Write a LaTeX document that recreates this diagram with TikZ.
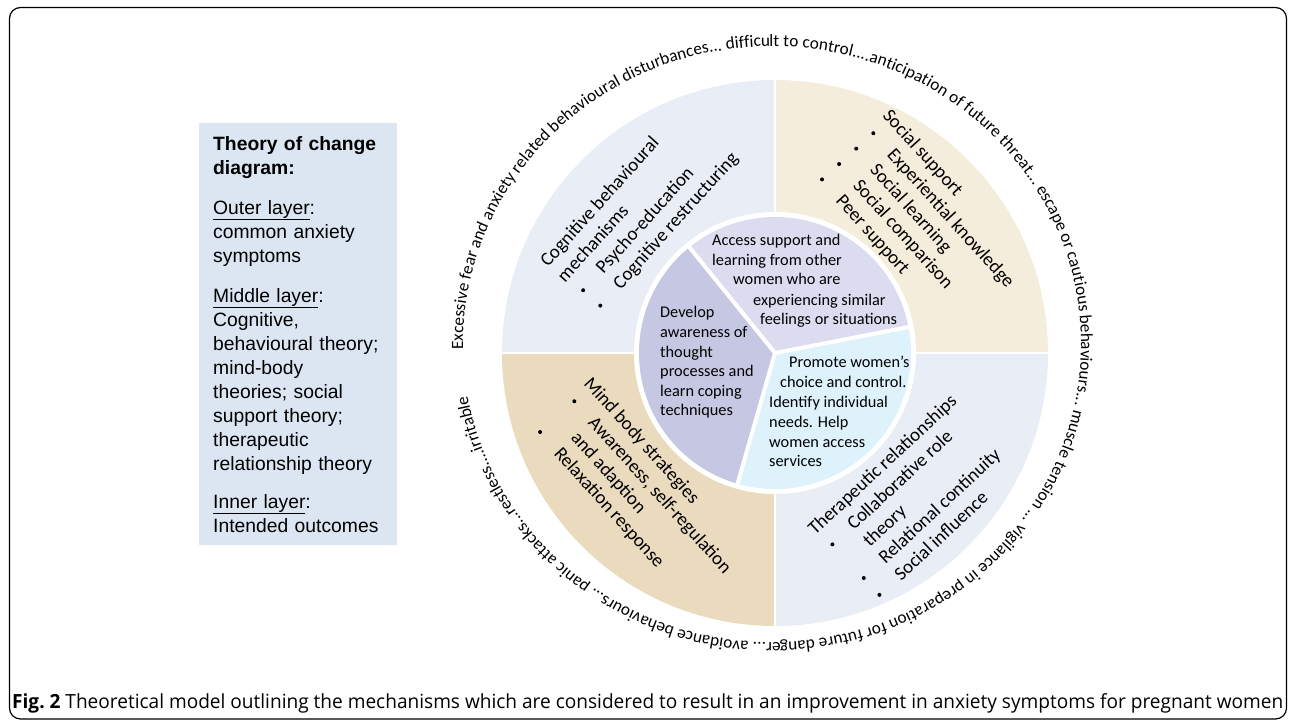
\documentclass[tikz,border=0pt]{standalone}
\usepackage{fontspec}
\usepackage{graphicx}
\setmainfont{Carlito}
\newfontfamily\legendfont{Liberation Sans}
\newfontfamily\captionfont{Open Sans}
\usetikzlibrary{decorations.text}

\definecolor{quadblue}{HTML}{E9EDF5}
\definecolor{quadcream}{HTML}{F5EDDC}
\definecolor{quadtan}{HTML}{EADBBF}
\definecolor{innerlav}{HTML}{DBDCF0}
\definecolor{innerpurple}{HTML}{C6C8E3}
\definecolor{innercyan}{HTML}{DDF2FB}
\definecolor{legendblue}{HTML}{DCE6F2}

\begin{document}
\begin{tikzpicture}[x=1pt,y=1pt,
    ringtext/.style={anchor=base west,inner sep=0pt,transform shape,font=\fontsize{19}{23}\selectfont},
    coretext/.style={anchor=base west,inner sep=0pt,font=\fontsize{16.3}{19.5}\selectfont}]
    \useasboundingbox (0,0) rectangle (1292,724);
    \draw[line width=1.2pt,rounded corners=11pt] (9.5,5) rectangle (1286.5,716.5);

    % legend box
    \fill[legendblue] (199,179) rectangle (397,601);
    \node[anchor=north west,inner sep=0pt,text width=182pt,align=left,font=\legendfont\fontsize{19.3}{24}\selectfont] (legend) at (213,588)
        {\textbf{Theory of change}\\\textbf{diagram:}\\[16pt]\underline{Outer layer}:\\common anxiety\\symptoms\\[16pt]\underline{Middle layer}:\\Cognitive,\\behavioural theory;\\mind-body\\theories; social\\support theory;\\therapeutic\\relationship theory\\[14pt]\underline{Inner layer}:\\Intended outcomes};

    % middle layer
    \coordinate (ctr) at (775,371);
    \foreach \a/\col in {0/quadcream,90/quadblue,180/quadtan,270/quadblue}
        \fill[\col] (ctr) -- ++(\a:273) arc[start angle=\a,delta angle=90,radius=273] -- cycle;
    \draw[white,line width=2.5pt] (500,371) -- (1050,371) (775,96) -- (775,646);

    % inner layer
    \fill[white] (ctr) circle[radius=141];
    \foreach \a/\b/\col in {11/129/innerlav,129/254/innerpurple,254/371/innercyan}
        \fill[\col] (ctr) -- ++(\a:136) arc[start angle=\a,end angle=\b,radius=136] -- cycle;
    \foreach \a in {11,129,254}
        \draw[white,line width=4pt] (ctr) -- ++(\a:140);

    \foreach \x/\y/\txt [count=\i] in {712/478/{Access support and},712/458/{learning from other},733/439/{women who are},753/419/{experiencing similar},760/400/{feelings or situations}}
        \node[coretext] (access\i) at (\x,\y) {\txt};
    \foreach \x/\y/\txt [count=\i] in {660/407/{Develop},660/387/{awareness of},660/367/{thought},660/348/{processes and},660/328/{learn coping},660/309/{techniques}}
        \node[coretext] (develop\i) at (\x,\y) {\txt};
    \foreach \x/\y/\txt [count=\i] in {789/357/{Promote women’s},780/337/{choice and control.},769/317/{Identify individual},769/297/{needs. Help},769/277/{women access},769/258/{services}}
        \node[coretext] (promote\i) at (\x,\y) {\txt};

    % middle layer texts
    \begin{scope}[shift={(548,456)},rotate=48]
        \node[ringtext] (cbt1) at (0,0) {Cognitive behavioural};
        \node[ringtext] (cbt2) at (0,-23) {mechanisms};
        \node[ringtext] (cbt3) at (32,-46) {Psycho-education};
        \node[ringtext] (cbt4) at (32,-69) {Cognitive restructuring};
        \foreach \v in {-46,-69} \fill (7,\v+5) circle[radius=2];
    \end{scope}
    \begin{scope}[shift={(882,608)},rotate=-48]
        \node[ringtext] (social1) at (0,0) {Social support};
        \node[ringtext] (social2) at (32,-23) {Experiential knowledge};
        \node[ringtext] (social3) at (32,-46) {Social learning};
        \node[ringtext] (social4) at (32,-69) {Social comparison};
        \node[ringtext] (social5) at (32,-92) {Peer support};
        \foreach \v in {-23,-46,-69,-92} \fill (7,\v+5) circle[radius=2];
    \end{scope}
    \begin{scope}[shift={(583,340)},rotate=-48]
        \node[ringtext] (mind1) at (0,0) {Mind body strategies};
        \node[ringtext] (mind2) at (32,-23) {Awareness, self-regulation};
        \node[ringtext] (mind3) at (32,-46) {and adaption};
        \node[ringtext] (mind4) at (32,-69) {Relaxation response};
        \foreach \v in {-23,-69} \fill (7,\v+5) circle[radius=2];
    \end{scope}
    \begin{scope}[shift={(815,188)},rotate=43]
        \node[ringtext] (thera1) at (0,0) {Therapeutic relationships};
        \node[ringtext] (thera2) at (32,-23) {Collaborative role};
        \node[ringtext] (thera3) at (32,-46) {theory};
        \node[ringtext] (thera4) at (32,-69) {Relational continuity};
        \node[ringtext] (thera5) at (32,-92) {Social influence};
        \foreach \v in {-23,-69,-92} \fill (7,\v+5) circle[radius=2];
    \end{scope}

    % outer layer
    \path[shift={(772,379.5)},decorate,decoration={text along path,text align=fit to path,
        text={|\fontsize{17.2}{18}\selectfont|Excessive fear and anxiety related behavioural disturbances... difficult to control....anticipation of future threat... escape or cautious behaviours... muscle tension ... vigilance in preparation for future danger... avoidance behaviours... panic attacks...restless....irritable}}]
        (181:309 and 298) arc[start angle=181,end angle=-170,x radius=309,y radius=298];

    \node[anchor=west,inner sep=0pt] (caption) at (12,21)
        {\resizebox{1271pt}{\height}{\captionfont\fontsize{19.5}{24}\selectfont\textbf{Fig.~2} Theoretical model outlining the mechanisms which are considered to result in an improvement in anxiety symptoms for pregnant women}};
\end{tikzpicture}
\end{document}
